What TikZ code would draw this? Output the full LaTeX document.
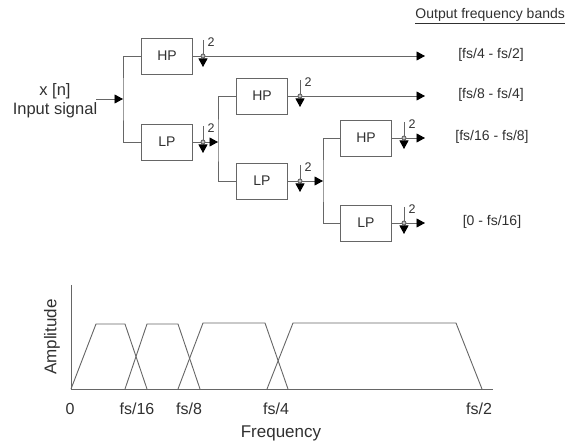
\documentclass[tikz,border=0pt]{standalone}
\usepackage{fontspec}
\setmainfont{Liberation Sans}
\usetikzlibrary{arrows.meta, positioning}
\definecolor{cline}{HTML}{666666}
\definecolor{ctext}{HTML}{303030}
\tikzset{
  every picture/.style={font=\fontsize{14}{16}\selectfont, line width=0.9pt},
  filt/.style={draw=cline, minimum width=51pt, minimum height=36pt, inner sep=0pt, text=ctext},
  wire/.style={draw=cline},
  sig/.style={draw=cline, -{Triangle[length=8.5pt, width=9pt, color=black]}},
  lbl/.style={text=ctext, inner sep=1pt},
  big/.style={text=ctext, font=\fontsize{16.5}{18}\selectfont, inner sep=1pt},
  two/.style={font=\fontsize{12.5}{12}\selectfont, text=ctext, inner sep=0pt},
}
\begin{document}
\begin{tikzpicture}[x=1pt, y=-1pt]
  \useasboundingbox (0,0) rectangle (566,446);
  % input
  \node[big] (xn) at (55,91) {x [n]};
  \node[big] (insig) at (55,110) {Input signal};
  \coordinate (in0) at (96,99);
  \coordinate (b1) at (123,99);
  \draw[sig] (in0) -- (b1);
  % first stage
  \node[filt] (hp1) at (167,56) {HP};
  \node[filt] (lp1) at (167,142) {LP};
  \draw[wire] (hp1.west) -| (b1) |- (lp1.west);
  \coordinate (ds1) at (203,56);
  \coordinate (ds2) at (203,142);
  \coordinate (b2) at (218,142);
  \coordinate (e1) at (425,56);
  \draw[wire] (hp1.east) -- (ds1);
  \draw[sig] (ds1) -- (e1);
  \draw[wire] (lp1.east) -- (ds2);
  \draw[sig] (ds2) -- (b2);
  % second stage
  \node[filt] (hp2) at (262,96) {HP};
  \node[filt] (lp2) at (262,181) {LP};
  \draw[wire] (hp2.west) -| (b2) |- (lp2.west);
  \coordinate (ds3) at (300,96);
  \coordinate (ds4) at (300,181);
  \coordinate (b3) at (323,181);
  \coordinate (e2) at (425,96);
  \draw[wire] (hp2.east) -- (ds3);
  \draw[sig] (ds3) -- (e2);
  \draw[wire] (lp2.east) -- (ds4);
  \draw[sig] (ds4) -- (b3);
  % third stage
  \node[filt] (hp3) at (366,138) {HP};
  \node[filt] (lp3) at (366,223) {LP};
  \draw[wire] (hp3.west) -| (b3) |- (lp3.west);
  \coordinate (ds5) at (404,138);
  \coordinate (ds6) at (404,223);
  \coordinate (e3) at (425,138);
  \coordinate (e4) at (425,223);
  \draw[wire] (hp3.east) -- (ds5);
  \draw[sig] (ds5) -- (e3);
  \draw[wire] (lp3.east) -- (ds6);
  \draw[sig] (ds6) -- (e4);
  % downsamplers
  \foreach \d in {ds1,ds2,ds3,ds4,ds5,ds6}{
    \draw[sig] (\d) ++(0,-16) -- ++(0,27);
    \draw[draw=cline, fill=cline!40] (\d) circle (2pt);
    \path (\d) ++(8,-14) node[two] (\d n) {2};
  }
  % output bands
  \node[lbl, anchor=west] (title) at (414,16) {\underline{Output frequency bands}};
  \node[lbl] (band1) at (491,55) {[fs/4 - fs/2]};
  \node[lbl] (band2) at (491,95) {[fs/8 - fs/4]};
  \node[lbl] (band3) at (492,137) {[fs/16 - fs/8]};
  \node[lbl] (band4) at (492,222) {[0 - fs/16]};
  % spectrum
  \coordinate (org) at (71,389);
  \draw[wire] (71,285) -- (org) -- (493,389);
  \draw[wire] (71,389) -- (96,324) -- (125,324) -- (147,389);
  \draw[wire] (125,389) -- (147,324) -- (178,324) -- (200,389);
  \draw[wire] (178,389) -- (203,323) -- (265,323) -- (288,389);
  \draw[wire] (267,389) -- (293,323) -- (456,323) -- (482,389);
  \node[big, font=\fontsize{16}{18}\selectfont] (f0) at (70,409) {0};
  \node[big, font=\fontsize{16}{18}\selectfont] (f16) at (137,409) {fs/16};
  \node[big, font=\fontsize{16}{18}\selectfont] (f8) at (189,409) {fs/8};
  \node[big, font=\fontsize{16}{18}\selectfont] (f4) at (276,409) {fs/4};
  \node[big, font=\fontsize{16}{18}\selectfont] (f2) at (479,409) {fs/2};
  \node[big, font=\fontsize{17}{19}\selectfont] (freq) at (281,433) {Frequency};
  \node[big, font=\fontsize{17}{19}\selectfont, rotate=90] (amp) at (52,337) {Amplitude};
\end{tikzpicture}
\end{document}
